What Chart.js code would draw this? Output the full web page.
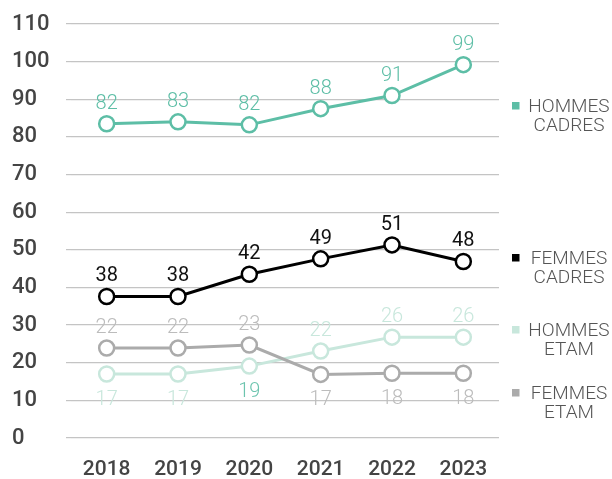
<!DOCTYPE html>
<html>
<head>
<meta charset="utf-8">
<script src="https://cdn.jsdelivr.net/npm/chart.js@4/dist/chart.umd.min.js"></script>
<style>
  html, body { margin: 0; padding: 0; background: #fff; }
  #wrap { width: 612px; height: 479px; }
</style>
</head>
<body>
<div id="wrap"><canvas id="graphique"></canvas></div>
<script>
// donnees
const annees = ['2018', '2019', '2020', '2021', '2022', '2023'];
const hommesCadres = [83.5, 84, 83.2, 87.5, 91, 99.2];
const femmesCadres = [37.6, 37.6, 43.5, 47.6, 51.3, 46.9];
const hommesEtam = [17, 17, 19.1, 23.1, 26.8, 26.8];
const femmesEtam = [23.9, 23.9, 24.7, 16.9, 17.2, 17.2];
// valeurs affichees au-dessus / en dessous des points
const hommesCadresTxt = [82, 83, 82, 88, 91, 99];
const femmesCadresTxt = [38, 38, 42, 49, 51, 48];
const hommesEtamTxt = [17, 17, 19, 22, 26, 26];
const femmesEtamTxt = [22, 22, 23, 17, 18, 18];
const yTicks = [0, 10, 20, 30, 40, 50, 60, 70, 80, 90, 100, 110];

const TEAL = '#5dbea6', MINT = '#c8e7dc', GRIS = '#ababab';

function serie(label, data, txt, color, txtColor, other) {
  return {
    label: label,
    data: data,
    txt: txt,
    txtColor: txtColor,
    other: other,
    borderColor: color,
    backgroundColor: '#fff',
    pointBackgroundColor: '#fff',
    pointBorderColor: color,
    pointRadius: 7.5,
    pointBorderWidth: 2.5,
    borderWidth: 3,
    tension: 0
  };
}

const dsHC = serie('HOMMES\nCADRES', hommesCadres, hommesCadresTxt, TEAL, TEAL, null);
const dsFC = serie('FEMMES\nCADRES', femmesCadres, femmesCadresTxt, '#000', '#111', null);
const dsFE = serie('FEMMES\nETAM', femmesEtam, femmesEtamTxt, GRIS, '#bcbcbc', hommesEtam);
const dsHE = serie('HOMMES\nETAM', hommesEtam, hommesEtamTxt, MINT, [MINT, MINT, '#6cc4ae', MINT, MINT, MINT], femmesEtam);

const etiquettes = {
  id: 'etiquettes',
  afterDatasetsDraw(chart) {
    const ctx = chart.ctx;
    ctx.save();
    ctx.textAlign = 'center';
    ctx.textBaseline = 'alphabetic';
    chart.data.datasets.forEach((ds, i) => {
      const meta = chart.getDatasetMeta(i);
      meta.data.forEach((pt, j) => {
        let dessous = false;
        if (ds.other) dessous = ds.data[j] < ds.other[j];
        ctx.fillStyle = Array.isArray(ds.txtColor) ? ds.txtColor[j] : ds.txtColor;
        ctx.font = (ds.borderColor === '#000' ? '400' : '300') + ' 20px Roboto';
        const y = dessous ? pt.y + 31 : pt.y - 15;
        ctx.fillText(String(ds.txt[j]), pt.x, y);
      });
    });
    ctx.restore();
  }
};

// legende a droite, lignes sur deux niveaux
const legende = {
  id: 'legende',
  afterDraw(chart) {
    const ctx = chart.ctx;
    const items = [
      { ds: dsHC, y: 112, sq: TEAL },
      { ds: dsFC, y: 264, sq: '#000' },
      { ds: dsHE, y: 336, sq: MINT },
      { ds: dsFE, y: 399, sq: GRIS }
    ];
    ctx.save();
    ctx.font = '300 19px Roboto';
    ctx.textAlign = 'center';
    ctx.textBaseline = 'alphabetic';
    items.forEach(it => {
      const lignes = it.ds.label.split('\n');
      ctx.fillStyle = it.sq;
      ctx.fillRect(512, it.y - 10, 7.5, 7.5);
      ctx.fillStyle = '#555';
      lignes.forEach((l, k) => ctx.fillText(l, 569, it.y + k * 18.5));
    });
    ctx.restore();
  }
};

new Chart(document.getElementById('graphique'), {
  type: 'line',
  data: {
    labels: annees,
    datasets: [dsHC, dsFC, dsFE, dsHE]
  },
  options: {
    responsive: true,
    maintainAspectRatio: false,
    animation: false,
    layout: { padding: { left: 12, right: 113, top: 24, bottom: 0 } },
    plugins: {
      legend: { display: false },
      tooltip: { enabled: false }
    },
    scales: {
      x: {
        offset: true,
        grid: { display: false, drawTicks: false },
        border: { display: false },
        ticks: { color: '#444', padding: 19, font: { family: 'Roboto', size: 21, weight: '500' } },
        afterFit(s) { s.height = 41; }
      },
      y: {
        min: 0,
        max: 110,
        afterBuildTicks(s) { s.ticks = yTicks.map(v => ({ value: v })); },
        grid: { color: '#c4c4c4', lineWidth: 1.2, tickLength: 5, drawTicks: true },
        border: { display: false },
        ticks: { color: '#444', crossAlign: 'far', font: { family: 'Roboto', size: 22, weight: '500' } },
        afterFit(s) { s.width = 59; }
      }
    }
  },
  plugins: [etiquettes, legende]
});
</script>
</body>
</html>
